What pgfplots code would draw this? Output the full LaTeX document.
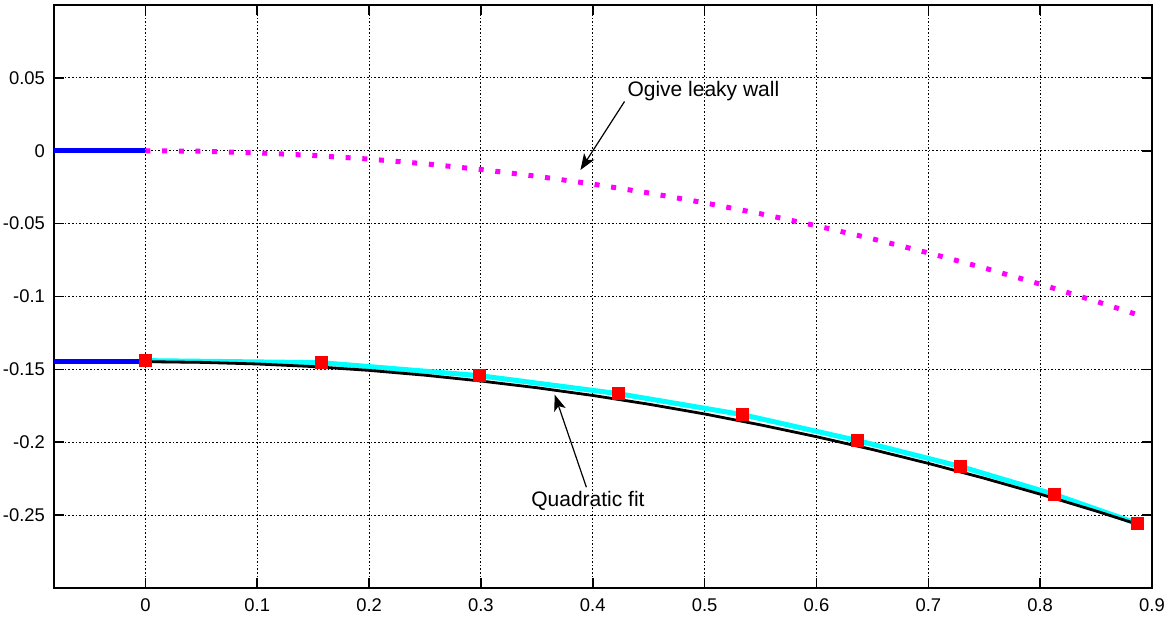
\documentclass[border=0pt]{standalone}
\usepackage{pgfplots}
\pgfplotsset{compat=1.18}
\usetikzlibrary{arrows.meta}
\usepackage{fontspec}
\setmainfont{Liberation Sans}
\definecolor{mmag}{RGB}{255,0,255}
\definecolor{mcyan}{RGB}{0,255,255}
\definecolor{mblue}{RGB}{0,0,255}
\definecolor{mred}{RGB}{255,0,0}
\begin{document}
\begin{tikzpicture}
\begin{axis}[
  scale only axis,
  width=549pt, height=291.5pt,
  xmin=-0.0817, xmax=0.9,
  ymin=-0.3, ymax=0.1,
  xtick={0,0.1,0.2,0.3,0.4,0.5,0.6,0.7,0.8,0.9},
  xticklabels={0,0.1,0.2,0.3,0.4,0.5,0.6,0.7,0.8,0.9},
  ytick={-0.25,-0.2,-0.15,-0.1,-0.05,0,0.05},
  yticklabels={-0.25,-0.2,-0.15,-0.1,-0.05,0,0.05},
  tick align=inside,
  xtick pos=both, ytick pos=both,
  major tick length=5pt,
  every tick/.style={black, solid, line width=0.8pt},
  axis line style={black, line width=0.7pt},
  xmajorgrids, ymajorgrids,
  major grid style={black, line width=0.5pt, dash pattern=on 0.8pt off 1.0pt},
  tick label style={font=\fontsize{9.2}{10}\selectfont},
  xticklabel style={yshift=-2pt},
  yticklabel style={xshift=-1pt},
  clip=true,
]
% blue stubs
\addplot[mblue, line width=2.5pt] coordinates {(-0.0817,0) (0,0)};
\addplot[mblue, line width=2.5pt] coordinates {(-0.0817,-0.1443) (0,-0.1443)};
% ogive leaky wall
\addplot[mmag, line width=2.5pt, dash pattern=on 2.5pt off 5.85pt] coordinates {
(0,0) (0.05,-0.00036) (0.1,-0.00143) (0.15,-0.00322) (0.2,-0.00572) (0.25,-0.00894)
(0.3,-0.01287) (0.35,-0.01752) (0.4,-0.02288) (0.45,-0.02896) (0.5,-0.03575)
(0.55,-0.04326) (0.6,-0.05148) (0.65,-0.06042) (0.7,-0.07007) (0.75,-0.08044)
(0.8,-0.09152) (0.85,-0.10332) (0.885,-0.1120)};
% cyan data line
\addplot[mcyan, line width=2.5pt] coordinates {
(0,-0.1440) (0.157,-0.1454) (0.2986,-0.1543) (0.423,-0.1667) (0.534,-0.1811)
(0.637,-0.1989) (0.729,-0.2167) (0.813,-0.2359) (0.887,-0.2558)};
% quadratic fit
\addplot[black, line width=1.4pt] coordinates {
(0,-0.1447) (0.05,-0.1452) (0.1,-0.1463) (0.15,-0.1481) (0.2,-0.1507) (0.25,-0.1540)
(0.3,-0.1580) (0.35,-0.1626) (0.4,-0.1679) (0.45,-0.1739) (0.5,-0.1806) (0.55,-0.1881)
(0.6,-0.1962) (0.65,-0.2050) (0.7,-0.2145) (0.75,-0.2247) (0.8,-0.2356) (0.85,-0.2472)
(0.886,-0.2560)};
% red squares
\addplot[only marks, mark=square*, mark size=3pt, mark options={fill=mred, draw=mred}] coordinates {
(0,-0.1440) (0.157,-0.1454) (0.2986,-0.1543) (0.423,-0.1667) (0.534,-0.1811)
(0.637,-0.1989) (0.729,-0.2167) (0.813,-0.2359) (0.887,-0.2558)};
% annotations
\node[anchor=west, inner sep=0pt, font=\fontsize{10.5}{12}\selectfont] at (axis cs:0.4307,0.0412) {Ogive leaky wall};
\draw[-{Stealth[length=8pt,width=6pt,inset=2pt]}, line width=0.6pt] (axis cs:0.4284,0.0338) -- (axis cs:0.389,-0.0132);
\node[anchor=center, inner sep=0pt, font=\fontsize{10.5}{12}\selectfont] at (axis cs:0.3957,-0.2405) {Quadratic fit};
\draw[-{Stealth[length=8pt,width=6pt,inset=2pt]}, line width=0.6pt] (axis cs:0.3943,-0.2309) -- (axis cs:0.366,-0.1674);
\end{axis}
\pgfresetboundingbox
\path ([shift={(-27pt,-15.5pt)}]current axis.south west) rectangle ([shift={(10pt,2.5pt)}]current axis.north east);
\end{tikzpicture}
\end{document}
